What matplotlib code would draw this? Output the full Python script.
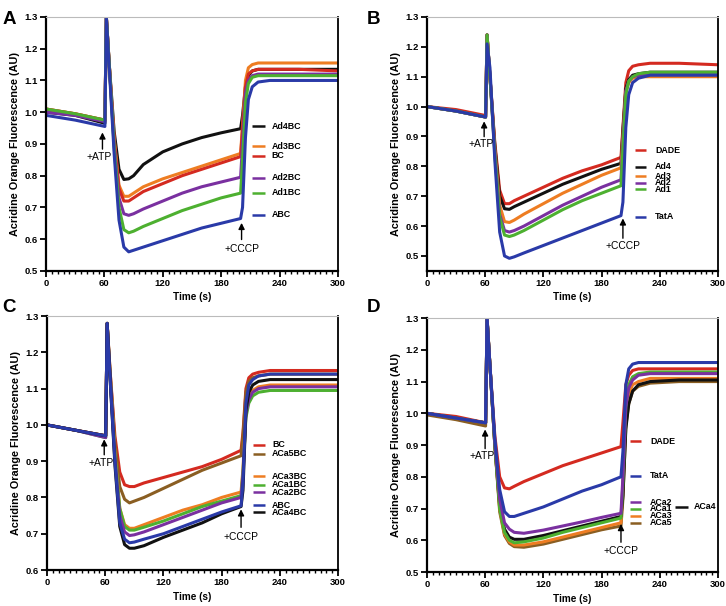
import matplotlib
matplotlib.use("Agg")
import matplotlib.pyplot as plt
from matplotlib.ticker import MultipleLocator, FormatStrFormatter

plt.rcParams['font.family'] = ['Liberation Sans', 'DejaVu Sans']

# ---------------- data ----------------
T = [0, 30, 60.5, 62, 65, 70, 75, 80, 85, 90, 100, 120, 140, 160, 180, 200,
     202, 205, 208, 212, 218, 230, 260, 300]

# Panel A
A_Ad4BC = [1.0, 0.99, 0.965, 1.3, 1.15, 0.94, 0.82, 0.788, 0.79, 0.80, 0.835, 0.875, 0.90, 0.92, 0.935, 0.948, 0.99, 1.08, 1.115, 1.13, 1.135, 1.135, 1.135, 1.135]
A_Ad3BC = [1.01, 0.995, 0.975, 1.3, 1.15, 0.92, 0.77, 0.735, 0.735, 0.745, 0.765, 0.79, 0.81, 0.83, 0.85, 0.87, 0.96, 1.10, 1.14, 1.15, 1.155, 1.155, 1.155, 1.155]
A_BC    = [1.01, 0.995, 0.975, 1.3, 1.15, 0.91, 0.76, 0.72, 0.72, 0.73, 0.75, 0.775, 0.80, 0.82, 0.84, 0.86, 0.95, 1.08, 1.12, 1.13, 1.135, 1.135, 1.135, 1.13]
A_Ad2BC = [1.0, 0.99, 0.97, 1.3, 1.15, 0.90, 0.73, 0.68, 0.675, 0.68, 0.695, 0.72, 0.745, 0.765, 0.78, 0.795, 0.90, 1.06, 1.10, 1.115, 1.12, 1.12, 1.12, 1.12]
A_Ad1BC = [1.01, 0.995, 0.975, 1.3, 1.15, 0.89, 0.70, 0.63, 0.62, 0.625, 0.64, 0.665, 0.69, 0.71, 0.73, 0.745, 0.85, 1.03, 1.09, 1.11, 1.115, 1.115, 1.115, 1.115]
A_ABC   = [0.99, 0.975, 0.955, 1.3, 1.14, 0.87, 0.66, 0.575, 0.56, 0.565, 0.575, 0.595, 0.615, 0.635, 0.65, 0.665, 0.70, 0.92, 1.04, 1.08, 1.095, 1.10, 1.10, 1.10]
A_labels = ['Ad4BC', 'Ad3BC', 'BC', 'Ad2BC', 'Ad1BC', 'ABC']
A_label_y = [0.956, 0.893, 0.862, 0.793, 0.746, 0.677]

# Panel B
B_DADE = [1.0, 0.99, 0.97, 1.24, 1.1, 0.88, 0.72, 0.675, 0.675, 0.685, 0.70, 0.73, 0.76, 0.785, 0.805, 0.83, 0.93, 1.08, 1.12, 1.135, 1.14, 1.145, 1.145, 1.14]
B_Ad4  = [1.0, 0.985, 0.965, 1.24, 1.1, 0.87, 0.70, 0.658, 0.656, 0.665, 0.68, 0.71, 0.74, 0.765, 0.79, 0.81, 0.92, 1.06, 1.09, 1.105, 1.11, 1.115, 1.115, 1.115]
B_Ad3  = [1.0, 0.985, 0.965, 1.24, 1.1, 0.86, 0.67, 0.615, 0.612, 0.62, 0.64, 0.675, 0.71, 0.74, 0.77, 0.795, 0.90, 1.05, 1.08, 1.095, 1.10, 1.10, 1.10, 1.10]
B_Ad2  = [1.0, 0.985, 0.965, 1.24, 1.1, 0.85, 0.64, 0.585, 0.58, 0.585, 0.60, 0.635, 0.67, 0.70, 0.73, 0.755, 0.88, 1.05, 1.085, 1.10, 1.105, 1.11, 1.11, 1.11]
B_Ad1  = [1.0, 0.985, 0.965, 1.24, 1.1, 0.84, 0.63, 0.57, 0.565, 0.57, 0.585, 0.62, 0.655, 0.685, 0.71, 0.735, 0.86, 1.04, 1.085, 1.10, 1.11, 1.115, 1.115, 1.115]
B_TatA = [1.0, 0.985, 0.965, 1.21, 1.13, 0.82, 0.58, 0.50, 0.492, 0.497, 0.51, 0.535, 0.56, 0.585, 0.61, 0.635, 0.68, 0.93, 1.04, 1.08, 1.095, 1.105, 1.105, 1.105]
B_labels = ['DADE', 'Ad4', 'Ad3', 'Ad2', 'Ad1', 'TatA']
B_label_y = [0.854, 0.799, 0.766, 0.745, 0.723, 0.631]

# Panel C
C_BC     = [1.0, 0.985, 0.97, 1.28, 1.15, 0.97, 0.87, 0.835, 0.83, 0.83, 0.84, 0.855, 0.87, 0.885, 0.905, 0.93, 0.98, 1.10, 1.13, 1.14, 1.145, 1.15, 1.15, 1.15]
C_ACa5BC = [1.0, 0.985, 0.97, 1.28, 1.15, 0.95, 0.83, 0.795, 0.785, 0.79, 0.80, 0.825, 0.85, 0.875, 0.895, 0.915, 0.97, 1.09, 1.12, 1.13, 1.135, 1.14, 1.14, 1.14]
C_ACa3BC = [1.0, 0.985, 0.97, 1.28, 1.14, 0.92, 0.77, 0.725, 0.715, 0.715, 0.725, 0.745, 0.765, 0.78, 0.80, 0.815, 0.88, 1.04, 1.08, 1.095, 1.105, 1.11, 1.11, 1.11]
C_ACa1BC = [1.0, 0.985, 0.965, 1.28, 1.14, 0.92, 0.77, 0.72, 0.71, 0.71, 0.718, 0.735, 0.755, 0.775, 0.79, 0.805, 0.87, 1.02, 1.06, 1.08, 1.09, 1.095, 1.095, 1.095]
C_ACa2BC = [1.0, 0.985, 0.965, 1.28, 1.14, 0.91, 0.75, 0.705, 0.695, 0.697, 0.705, 0.725, 0.745, 0.765, 0.785, 0.80, 0.86, 1.03, 1.07, 1.09, 1.10, 1.105, 1.105, 1.105]
C_ABC    = [1.0, 0.985, 0.97, 1.28, 1.13, 0.90, 0.73, 0.685, 0.675, 0.677, 0.685, 0.70, 0.72, 0.74, 0.76, 0.777, 0.84, 1.06, 1.11, 1.125, 1.135, 1.14, 1.14, 1.14]
C_ACa4BC = [1.0, 0.985, 0.97, 1.28, 1.13, 0.89, 0.72, 0.67, 0.66, 0.66, 0.667, 0.69, 0.71, 0.73, 0.755, 0.775, 0.82, 1.04, 1.09, 1.11, 1.12, 1.125, 1.125, 1.125]
C_labels = ['BC', 'ACa5BC', 'ACa3BC', 'ACa1BC', 'ACa2BC', 'ABC', 'ACa4BC']
C_label_y = [0.945, 0.92, 0.858, 0.835, 0.814, 0.779, 0.759]

# Panel D
D_DADE = [1.0, 0.99, 0.97, 1.3, 1.15, 0.93, 0.80, 0.765, 0.762, 0.77, 0.785, 0.81, 0.835, 0.855, 0.875, 0.895, 0.97, 1.09, 1.12, 1.135, 1.14, 1.14, 1.14, 1.14]
D_TatA = [1.0, 0.985, 0.97, 1.3, 1.15, 0.92, 0.76, 0.69, 0.675, 0.675, 0.685, 0.705, 0.73, 0.755, 0.775, 0.80, 0.88, 1.09, 1.14, 1.155, 1.16, 1.16, 1.16, 1.16]
D_ACa2 = [1.0, 0.985, 0.97, 1.3, 1.15, 0.91, 0.73, 0.655, 0.635, 0.625, 0.622, 0.632, 0.645, 0.658, 0.672, 0.685, 0.80, 1.02, 1.08, 1.105, 1.12, 1.125, 1.125, 1.125]
D_ACa4 = [1.0, 0.985, 0.97, 1.3, 1.15, 0.90, 0.71, 0.635, 0.61, 0.603, 0.603, 0.615, 0.63, 0.645, 0.66, 0.675, 0.74, 0.95, 1.03, 1.07, 1.09, 1.10, 1.105, 1.105]
D_ACa1 = [1.0, 0.985, 0.97, 1.3, 1.15, 0.90, 0.70, 0.625, 0.60, 0.592, 0.595, 0.607, 0.625, 0.64, 0.655, 0.67, 0.78, 1.02, 1.09, 1.115, 1.125, 1.13, 1.13, 1.13]
D_ACa3 = [1.0, 0.985, 0.97, 1.3, 1.15, 0.90, 0.70, 0.62, 0.595, 0.585, 0.585, 0.595, 0.61, 0.625, 0.64, 0.655, 0.76, 0.99, 1.06, 1.09, 1.10, 1.11, 1.11, 1.11]
D_ACa5 = [0.995, 0.98, 0.96, 1.3, 1.15, 0.90, 0.69, 0.615, 0.59, 0.58, 0.578, 0.588, 0.603, 0.618, 0.633, 0.645, 0.73, 0.96, 1.03, 1.07, 1.085, 1.095, 1.10, 1.10]
D_labels = ['DADE', 'TatA', 'ACa2', 'ACa1', 'ACa3', 'ACa5']
D_label_y = [0.912, 0.804, 0.72, 0.70, 0.678, 0.655]

x_ticks = [0, 60, 120, 180, 240, 300]

# ---------------- styling ----------------
BLACK = '#111111'
ORANGE = '#EE7D22'
RED = '#D42A20'
PURPLE = '#7A30A0'
GREEN = '#4DB030'
BLUE = '#2A3AA8'
BROWN = '#8A5E22'

fig = plt.figure(figsize=(7.26, 6.06), dpi=100)

panels = [
    dict(name='A', rect=[0.0634, 0.553, 0.402, 0.419], ylim=(0.5, 1.3),
         series=[(A_Ad4BC, BLACK), (A_Ad3BC, ORANGE), (A_BC, RED), (A_Ad2BC, PURPLE), (A_Ad1BC, GREEN), (A_ABC, BLUE)],
         labels=A_labels, label_y=A_label_y, label_colors=[BLACK, ORANGE, RED, PURPLE, GREEN, BLUE],
         seg=(212, 225), txt=232,
         atp=(58, 0.875, 0.945, 0.858), cccp=(201, 0.59, 0.66, 0.57)),
    dict(name='B', rect=[0.588, 0.553, 0.401, 0.419], ylim=(0.45, 1.3),
         series=[(B_DADE, RED), (B_Ad4, BLACK), (B_Ad3, ORANGE), (B_Ad2, PURPLE), (B_Ad1, GREEN), (B_TatA, BLUE)],
         labels=B_labels, label_y=B_label_y, label_colors=[RED, BLACK, ORANGE, PURPLE, GREEN, BLUE],
         seg=(214, 226), txt=235,
         atp=(59, 0.89, 0.96, 0.875), cccp=(202, 0.55, 0.635, 0.532)),
    dict(name='C', rect=[0.0647, 0.0594, 0.401, 0.419], ylim=(0.6, 1.3),
         series=[(C_BC, RED), (C_ACa5BC, BROWN), (C_ACa3BC, ORANGE), (C_ACa1BC, GREEN), (C_ACa2BC, PURPLE), (C_ACa4BC, BLACK), (C_ABC, BLUE)],
         labels=C_labels, label_y=C_label_y, label_colors=[RED, BROWN, ORANGE, GREEN, PURPLE, BLUE, BLACK],
         seg=(212, 225), txt=232,
         atp=(59, 0.91, 0.968, 0.895), cccp=(200, 0.71, 0.775, 0.692)),
    dict(name='D', rect=[0.588, 0.0561, 0.401, 0.419], ylim=(0.5, 1.3),
         series=[(D_DADE, RED), (D_ACa5, BROWN), (D_ACa3, ORANGE), (D_ACa4, BLACK), (D_ACa1, GREEN), (D_ACa2, PURPLE), (D_TatA, BLUE)],
         labels=D_labels, label_y=D_label_y, label_colors=[RED, BLUE, PURPLE, GREEN, ORANGE, BROWN],
         seg=(209, 221), txt=230,
         atp=(60, 0.88, 0.958, 0.865), cccp=(200, 0.585, 0.66, 0.565)),
]

for p in panels:
    ax = fig.add_axes(p['rect'])
    for vals, col in p['series']:
        ax.plot(T, vals, color=col, lw=2.2, solid_joinstyle='round')
    ax.set_xlim(0, 300)
    ax.set_ylim(*p['ylim'])
    ax.set_xticks(x_ticks)
    ax.xaxis.set_minor_locator(MultipleLocator(6))
    ax.yaxis.set_major_locator(MultipleLocator(0.1))
    ax.yaxis.set_major_formatter(FormatStrFormatter('%.1f'))
    ax.tick_params(axis='both', which='major', length=4, width=1.3, labelsize=6.8, pad=2)
    ax.tick_params(axis='x', which='minor', length=2.2, width=1.0)
    for lab in ax.get_xticklabels() + ax.get_yticklabels():
        lab.set_fontweight('bold')
    for s in ['left', 'bottom']:
        ax.spines[s].set_linewidth(1.6)
    ax.spines['right'].set_linewidth(1.3)
    ax.spines['top'].set_linewidth(0.8)
    ax.spines['top'].set_color('#bbbbbb')
    ax.set_xlabel('Time (s)', fontsize=7.2, fontweight='bold', labelpad=3)
    ax.set_ylabel('Acridine Orange Fluorescence (AU)', fontsize=7.8, fontweight='bold', labelpad=3)

    # legend-like labels
    for lab, yv, col in zip(p['labels'], p['label_y'], p['label_colors']):
        ax.plot(p['seg'], [yv, yv], color=col, lw=1.8, solid_capstyle='butt')
        ax.text(p['txt'], yv, lab, fontsize=6.4, fontweight='bold', va='center', ha='left')
    if p['name'] == 'D':
        ax.plot([256, 269], [0.706, 0.706], color=BLACK, lw=1.8, solid_capstyle='butt')
        ax.text(275, 0.706, 'ACa4', fontsize=6.4, fontweight='bold', va='center', ha='left')

    # arrows
    xa, y0, y1, yt = p['atp']
    ax.annotate('', xy=(xa, y1), xytext=(xa, y0),
                arrowprops=dict(arrowstyle='-|>', color='black', lw=1.0, mutation_scale=9))
    ax.text(xa - 3, yt, '+ATP', fontsize=7.4, ha='center', va='center')
    xc, c0, c1, ct = p['cccp']
    ax.annotate('', xy=(xc, c1), xytext=(xc, c0),
                arrowprops=dict(arrowstyle='-|>', color='black', lw=1.0, mutation_scale=9))
    ax.text(xc, ct, '+CCCP', fontsize=7.4, ha='center', va='center')

# panel letters
fig.text(0.003, 0.968, 'A', fontsize=13.5, fontweight='bold', va='center', ha='left')
fig.text(0.505, 0.968, 'B', fontsize=13.5, fontweight='bold', va='center', ha='left')
fig.text(0.003, 0.493, 'C', fontsize=13.5, fontweight='bold', va='center', ha='left')
fig.text(0.505, 0.493, 'D', fontsize=13.5, fontweight='bold', va='center', ha='left')

fig.savefig('out.png', dpi=100)
